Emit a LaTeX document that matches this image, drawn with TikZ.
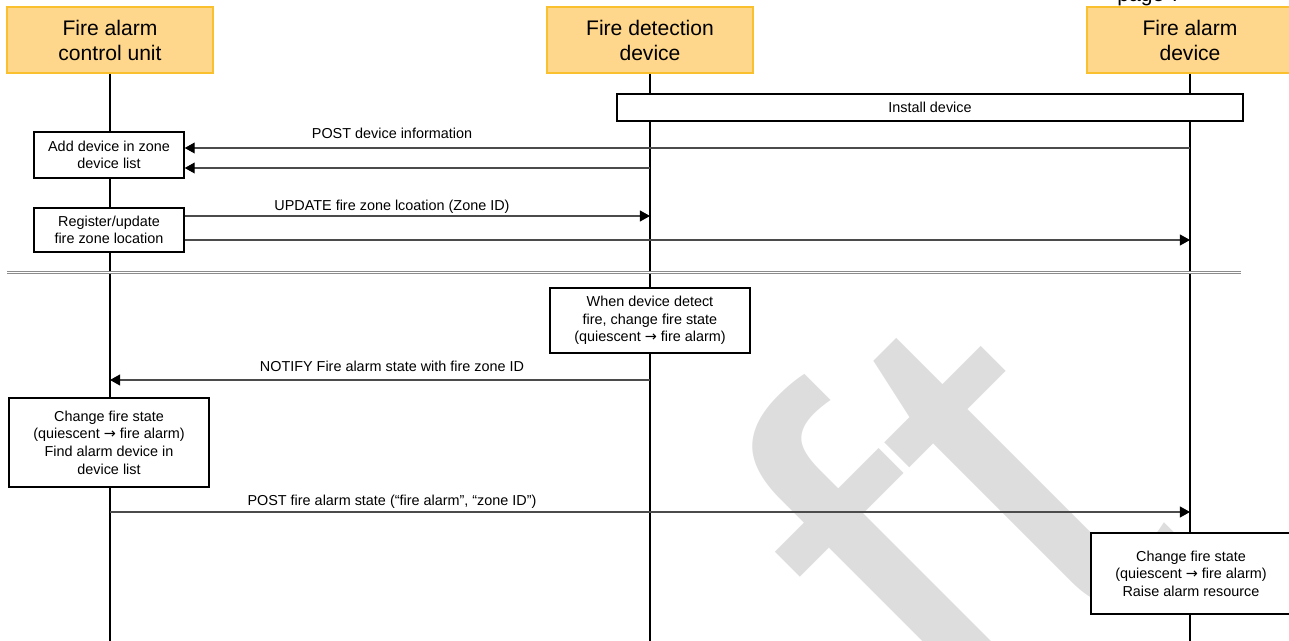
\documentclass[tikz,border=0pt]{standalone}
\usepackage{fontspec}
\setmainfont{Liberation Sans}
\newfontfamily\symfont{DejaVu Sans}
\usetikzlibrary{arrows.meta}
\usetikzlibrary{positioning}

\definecolor{hdrfill}{RGB}{254,215,140}
\definecolor{hdrline}{RGB}{250,192,45}
\definecolor{wmgray}{RGB}{221,221,221}
\definecolor{msggray}{RGB}{75,75,75}
\definecolor{sepgray}{RGB}{140,140,140}
\newcommand{\qto}{{\symfont →}}

\begin{document}
\begin{tikzpicture}[x=0.02cm,y=-0.02cm,
  head/.style={draw=hdrline,fill=hdrfill,line width=0.9pt,minimum width=4.12cm,minimum height=1.32cm,align=center,inner sep=0pt,font=\fontsize{12}{14.2}\selectfont},
  act/.style={draw,fill=white,line width=0.85pt,align=center,inner sep=0pt,font=\fontsize{8.2}{10}\selectfont},
  msg/.style={draw=msggray,line width=0.6pt,-{Triangle[length=5.7pt,width=6.2pt,color=black]}},
  txt/.style={inner sep=0pt,font=\fontsize{8.2}{10}\selectfont},
  life/.style={line width=1.1pt},
  sep/.style={draw=sepgray,double=white,line width=0.6pt,double distance=0.6pt}]
\useasboundingbox (0,0) rectangle (1289,641);
\clip (0,0) rectangle (1289,641);
\node[rotate=45,anchor=base east,inner sep=0pt,text=wmgray,font=\fontsize{315}{315}\selectfont] (wm) at (1194,547) {ft};
\node[anchor=base west,inner sep=0pt,font=\fontsize{12}{14.2}\selectfont] (pg) at (1117,1.2) {page 7};

\node[head] (fa) at (110,40) {Fire alarm\\control unit};
\node[head] (fd) at (650,40) {Fire detection\\device};
\node[head] (fadev) at (1190,40) {Fire alarm\\device};
\coordinate (fa1) at (110,641);
\coordinate (fd1) at (650,641);
\coordinate (fadev1) at (1190,641);
\draw[life] (fa) -- (fa1);
\draw[life] (fd) -- (fd1);
\draw[life] (fadev) -- (fadev1);

\coordinate (s1) at (7,272.5);
\coordinate (s2) at (1241,272.5);
\draw[sep] (s1) -- (s2);

\node[act,minimum width=12.52cm,minimum height=0.54cm] (inst) at (930,107.5) {Install device};
\node[act,minimum width=3cm,minimum height=0.92cm] (add) at (109,155) {Add device in zone\\device list};
\node[act,minimum width=3cm,minimum height=0.88cm] (reg) at (109,230) {Register/update\\fire zone location};
\node[act,minimum width=4cm,minimum height=1.3cm] (det) at (650,320.5) {When device detect\\fire, change fire state\\(quiescent \qto{} fire alarm)};
\node[act,minimum width=4cm,minimum height=1.78cm] (chg) at (109,442.5) {Change fire state\\(quiescent \qto{} fire alarm)\\Find alarm device in\\device list};
\node[act,minimum width=4cm,minimum height=1.62cm] (rai) at (1191,573.5) {Change fire state\\(quiescent \qto{} fire alarm)\\Raise alarm resource};

\coordinate (m1) at (1190,148);
\draw[msg] (m1) -- (m1 -| add.east);
\coordinate (m2) at (650,168);
\draw[msg] (m2) -- (m2 -| add.east);
\coordinate (m3) at (650,216);
\draw[msg] (m3 -| reg.east) -- (m3);
\coordinate (m4) at (1190,240);
\draw[msg] (m4 -| reg.east) -- (m4);
\coordinate (m5a) at (650,380);
\coordinate (m5b) at (110,380);
\draw[msg] (m5a) -- (m5b);
\coordinate (m6a) at (110,512);
\coordinate (m6b) at (1190,512);
\draw[msg] (m6a) -- (m6b);

\node[txt,anchor=base] (l1) at (392,139) {POST device information};
\node[txt,anchor=base] (l2) at (392,211) {UPDATE fire zone lcoation (Zone ID)};
\node[txt,anchor=base] (l3) at (392,371.5) {NOTIFY Fire alarm state with fire zone ID};
\node[txt,anchor=base] (l4) at (392,506) {POST fire alarm state (“fire alarm”, “zone ID”)};
\end{tikzpicture}
\end{document}
